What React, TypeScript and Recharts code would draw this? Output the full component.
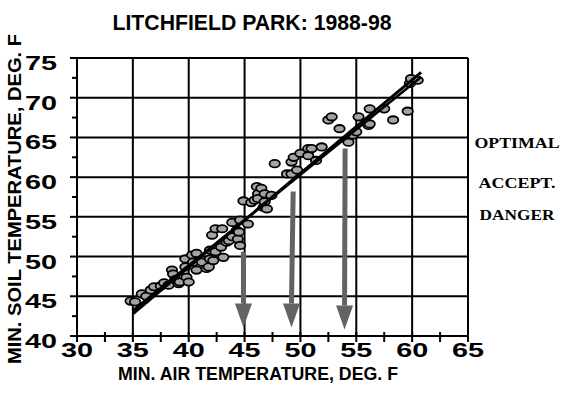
import React from "react";
import { ScatterChart, Scatter, XAxis, YAxis, CartesianGrid } from "recharts";

// observed daily minima: [air, soil], deg F
const OBS: [number, number][] = [
	[34.8, 44.4], [35.2, 44.3], [35.8, 45.3], [36.2, 45.0], [36.6, 45.8], [36.9, 46.2],
	[37.5, 46.3], [37.8, 46.7], [38.2, 46.4], [38.5, 48.3], [38.6, 47.8], [38.8, 47.1],
	[39.1, 46.6], [39.2, 46.8], [39.7, 48.7], [39.7, 49.7], [39.8, 47.4], [40.0, 46.8],
	[40.3, 50.2], [40.4, 49.3], [40.7, 50.4], [40.7, 48.3], [41.2, 49.3], [41.6, 48.5],
	[41.8, 48.7], [41.9, 49.7], [41.9, 50.8], [42.1, 52.7], [42.2, 49.5], [42.4, 53.5],
	[42.4, 50.6], [43.0, 53.5], [42.9, 51.2], [43.1, 49.9], [43.4, 51.8], [43.6, 52.0],
	[43.9, 52.5], [43.9, 54.3], [44.3, 53.3], [44.4, 52.2], [44.5, 53.1], [44.6, 54.6],
	[44.6, 51.4], [45.3, 54.1], [44.9, 57.0], [45.6, 56.8], [45.9, 57.1], [46.1, 58.8],
	[46.2, 57.9], [46.2, 57.3], [46.5, 58.6], [46.7, 56.2], [46.8, 57.9], [46.8, 56.9],
	[47.0, 56.0], [47.4, 57.7], [47.7, 61.7], [48.8, 60.4], [49.2, 60.4], [49.2, 61.9],
	[49.4, 62.5], [49.7, 60.9], [50.0, 63.0], [50.7, 63.6], [50.7, 62.7], [51.0, 63.6],
	[51.4, 62.1], [51.9, 63.8], [52.5, 67.2], [52.8, 67.6], [53.5, 66.1], [54.3, 64.4],
	[54.7, 65.3], [55.0, 65.7], [55.2, 67.6], [56.1, 66.5], [56.2, 68.6], [56.2, 66.7],
	[57.5, 68.6], [58.3, 67.2], [59.6, 68.3], [59.8, 71.8], [59.9, 72.4], [60.5, 72.2],
];

const FIT_A = [{ x: 35, y: 42.8 }, { x: 60.8, y: 73.2 }];
const FIT_B = [{ x: 35, y: 43.2 }, { x: 60.8, y: 72.6 }];

// arrows: shaft top, then base of the head
const ARROWS = [
	[{ x: 44.9, y: 50.6 }, { x: 44.9, y: 44.1, head: true }],
	[{ x: 49.35, y: 58.2 }, { x: 49.2, y: 44.1, head: true }],
	[{ x: 54.0, y: 63.6 }, { x: 53.95, y: 43.85, head: true }],
];

const X_TICKS = [30, 32.5, 35, 37.5, 40, 42.5, 45, 47.5, 50, 52.5, 55, 57.5, 60, 62.5, 65];
const Y_TICKS = [40, 42.5, 45, 47.5, 50, 52.5, 55, 57.5, 60, 62.5, 65, 67.5, 70, 72.5, 75];
const MAJOR_X = [30, 35, 40, 45, 50, 55, 60, 65];
const MAJOR_Y = [40, 45, 50, 55, 60, 65, 70, 75];

const ZONE_LEVELS = [64.3, 59.2, 55.2];
const ZONE_LABELS = ["OPTIMAL", "ACCEPT.", "DANGER"];
const ZONE_WIDTHS = [85, 77, 75];

const TITLE = "LITCHFIELD PARK: 1988-98";
const X_TITLE = "MIN. AIR TEMPERATURE, DEG. F";
const Y_TITLE = "MIN. SOIL TEMPERATURE, DEG. F";

const SANS = "'Liberation Sans', Arial, sans-serif";
const SERIF = "'Liberation Serif', 'Times New Roman', serif";

const W = 563;
const H = 410;
const PLOT = { top: 58, left: 77, right: 95, bottom: 74 };

const points = OBS.map(([x, y]) => ({ x, y }));

const XTick = (props: any) => {
	const { x, y, payload } = props;
	const major = payload.value % 5 === 0;
	return (
		<g>
			<line x1={x} x2={x} y1={y - 4} y2={y + 6} stroke="#000" strokeWidth={2} />
			{major && (
				<text x={x} y={y + 21} textAnchor="middle" fontFamily={SANS} fontWeight="bold" fontSize={21} textLength={32} lengthAdjust="spacingAndGlyphs" fill="#000">
					{payload.value}
				</text>
			)}
		</g>
	);
};

const YTick = (props: any) => {
	const { x, y, payload } = props;
	const major = payload.value % 5 === 0;
	return (
		<g>
			<line x1={x - (major ? 7 : 5)} x2={x} y1={y} y2={y} stroke="#000" strokeWidth={2} />
			{major && (
				<text x={x - 20} y={y + 12} textAnchor="end" fontFamily={SANS} fontWeight="bold" fontSize={21} textLength={32} lengthAdjust="spacingAndGlyphs" fill="#000">
					{payload.value}
				</text>
			)}
		</g>
	);
};

const Dot = (props: any) => {
	const { cx, cy } = props;
	return <ellipse cx={cx} cy={cy} rx={5.2} ry={3.7} fill="#a3a3a3" stroke="#000" strokeWidth={1.8} />;
};

const Nothing = () => <g />;

const ArrowHead = (props: any) => {
	const { cx, cy, payload } = props;
	if (!payload || !payload.head) return <g />;
	return <polygon points={`${cx - 8.5},${cy} ${cx + 8.5},${cy} ${cx},${cy + 24}`} fill="#636363" />;
};

const gridX = ({ offset }: any) => MAJOR_X.map((v) => offset.left + ((v - 30) / 35) * offset.width);
const gridY = ({ offset }: any) => MAJOR_Y.map((v) => offset.top + ((75 - v) / 35) * offset.height);

const levelY = (v: number) => PLOT.top + ((75 - v) / 35) * (H - PLOT.top - PLOT.bottom);

export default function App() {
	return (
		<div style={{ position: "absolute", left: 0, top: 0, width: W, height: H, background: "#fff" }}>
			<ScatterChart width={W} height={H} margin={{ top: PLOT.top, right: PLOT.right, bottom: 0, left: 0 }}>
				<CartesianGrid stroke="#000" strokeWidth={2} verticalCoordinatesGenerator={gridX} horizontalCoordinatesGenerator={gridY} />
				<XAxis
					type="number"
					dataKey="x"
					domain={[30, 65]}
					ticks={X_TICKS}
					interval={0}
					height={PLOT.bottom}
					tickSize={0}
					tickMargin={0}
					tickLine={false}
					axisLine={{ stroke: "#000", strokeWidth: 2 }}
					tick={<XTick />}
				/>
				<YAxis
					type="number"
					dataKey="y"
					domain={[40, 75]}
					ticks={Y_TICKS}
					interval={0}
					width={PLOT.left}
					tickSize={0}
					tickMargin={0}
					tickLine={false}
					axisLine={{ stroke: "#000", strokeWidth: 2 }}
					tick={<YTick />}
				/>
				<Scatter data={points} shape={<Dot />} isAnimationActive={false} />
				<Scatter data={FIT_A} line={{ stroke: "#000", strokeWidth: 3 }} shape={<Nothing />} isAnimationActive={false} />
				<Scatter data={FIT_B} line={{ stroke: "#000", strokeWidth: 2.5 }} shape={<Nothing />} isAnimationActive={false} />
				{ARROWS.map((a, i) => (
					<Scatter key={i} data={a} line={{ stroke: "#636363", strokeWidth: 5 }} shape={<ArrowHead />} isAnimationActive={false} />
				))}
			</ScatterChart>
			<svg width={W} height={H} style={{ position: "absolute", left: 0, top: 0, pointerEvents: "none" }}>
				<text x={252} y={30} textAnchor="middle" fontFamily={SANS} fontWeight="bold" fontSize={22} textLength={279} lengthAdjust="spacingAndGlyphs">
					{TITLE}
				</text>
				<text x={258} y={380} textAnchor="middle" fontFamily={SANS} fontWeight="bold" fontSize={19} textLength={280} lengthAdjust="spacingAndGlyphs">
					{X_TITLE}
				</text>
				<text transform="translate(21,199) rotate(-90)" textAnchor="middle" fontFamily={SANS} fontWeight="bold" fontSize={19} textLength={330} lengthAdjust="spacingAndGlyphs">
					{Y_TITLE}
				</text>
				{ZONE_LABELS.map((label, i) => (
					<text key={label} x={517} y={levelY(ZONE_LEVELS[i]) + 5} textAnchor="middle" fontFamily={SERIF} fontWeight="bold" fontSize={15} textLength={ZONE_WIDTHS[i]} lengthAdjust="spacingAndGlyphs">
						{label}
					</text>
				))}
			</svg>
		</div>
	);
}
